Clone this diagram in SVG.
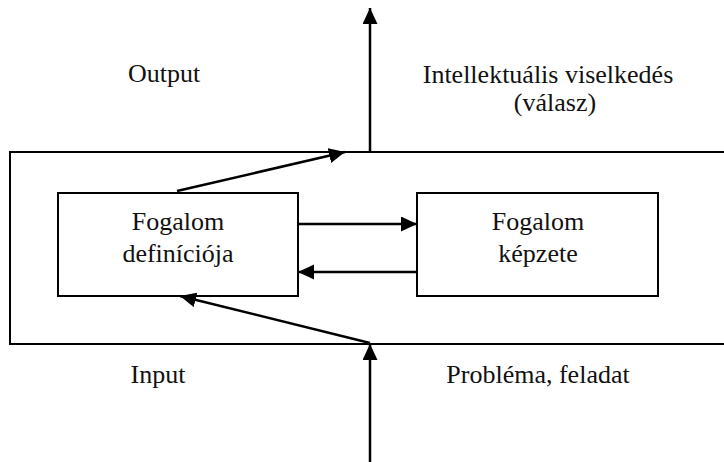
<svg xmlns="http://www.w3.org/2000/svg" width="724" height="462" viewBox="0 0 724 462">
  <style>
    .box { fill: #fff; stroke: #000; stroke-width: 2; }
    .frame { fill: none; stroke: #000; stroke-width: 2; }
    .conn { stroke: #000; stroke-width: 2.5; fill: none; marker-end: url(#arrow); }
    .lbl { font-family: 'Liberation Serif', 'Times New Roman', serif; font-size: 26px; fill: #111; text-anchor: middle; }
  </style>
  <defs>
    <marker id="arrow" markerUnits="userSpaceOnUse" markerWidth="17" markerHeight="16" refX="16" refY="7.5" orient="auto">
      <path d="M0,0 L16,7.5 L0,15 z" fill="#000"/>
    </marker>
  </defs>
  <rect width="724" height="462" fill="#fff"/>

  <g id="system">
    <rect class="frame" x="10" y="152" width="730" height="192"/>
  </g>

  <g id="output-label">
    <text class="lbl" x="164" y="82">Output</text>
  </g>
  <g id="output-desc">
    <text class="lbl" x="548" y="83">Intellektuális viselkedés</text>
    <text class="lbl" x="555" y="111">(válasz)</text>
  </g>
  <g id="input-label">
    <text class="lbl" x="158" y="383">Input</text>
  </g>
  <g id="input-desc">
    <text class="lbl" x="538" y="383">Probléma, feladat</text>
  </g>

  <g id="definicio">
    <rect class="box" x="58" y="193" width="240" height="103"/>
    <text class="lbl" x="178" y="230">Fogalom</text>
    <text class="lbl" x="178" y="262">definíciója</text>
  </g>
  <g id="kepzet">
    <rect class="box" x="417" y="193" width="241" height="103"/>
    <text class="lbl" x="538" y="230">Fogalom</text>
    <text class="lbl" x="538" y="262">képzete</text>
  </g>

  <g id="connectors">
    <line class="conn" x1="177" y1="191" x2="345" y2="152"/>
    <line class="conn" x1="370" y1="152" x2="370" y2="8"/>
    <line class="conn" x1="298" y1="224" x2="417" y2="224"/>
    <line class="conn" x1="417" y1="272" x2="298" y2="272"/>
    <line class="conn" x1="370" y1="343" x2="180" y2="296"/>
    <line class="conn" x1="370" y1="462" x2="370" y2="344"/>
  </g>
</svg>
